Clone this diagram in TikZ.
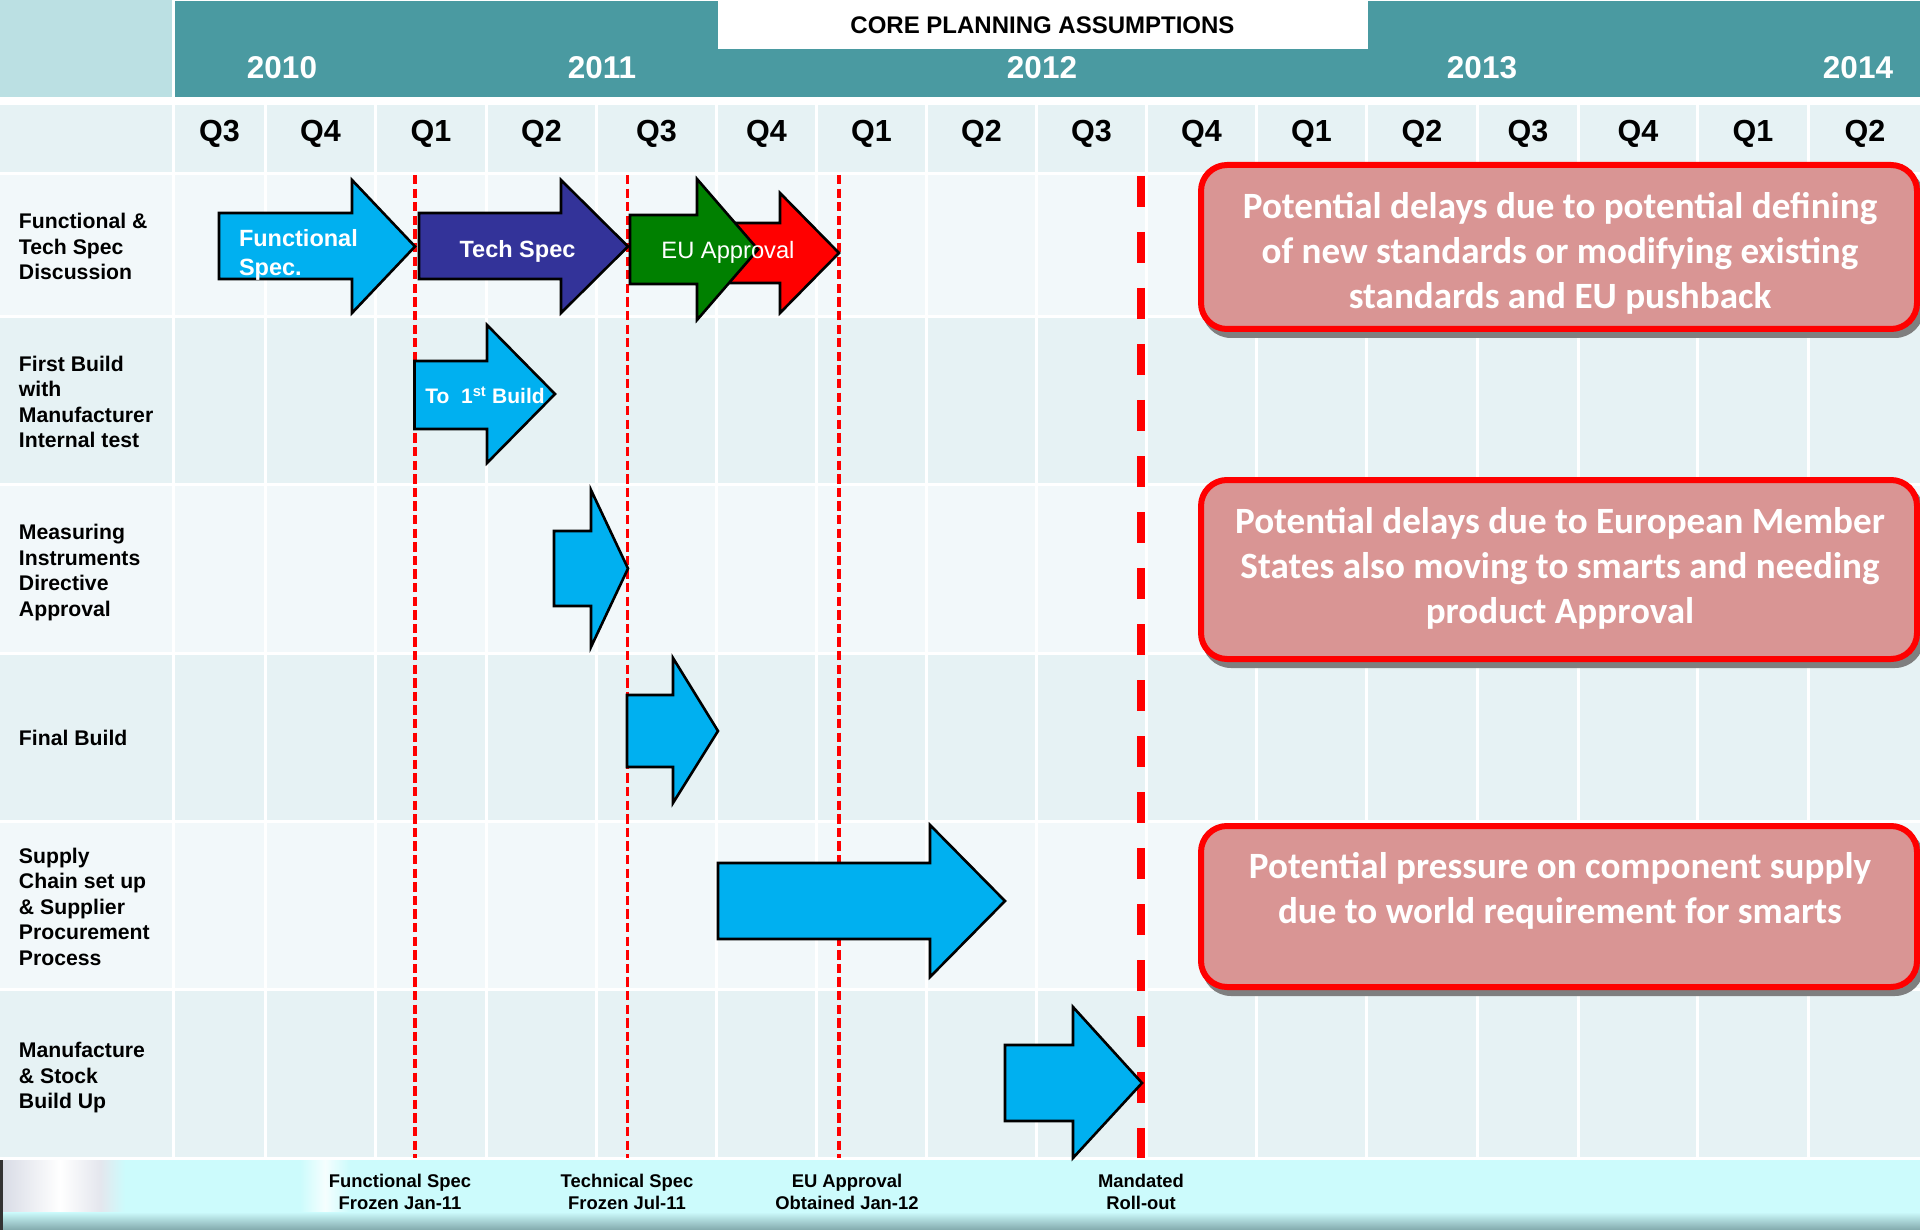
\documentclass[tikz,border=0pt]{standalone}
\usepackage{fontspec}
\setmainfont{Liberation Sans}
\newfontfamily\calibfont{Carlito}
\usetikzlibrary{calc}
\definecolor{hdrteal}{HTML}{4A9AA1}
\definecolor{hdrleft}{HTML}{BBE0E3}
\definecolor{rowlight}{HTML}{F2F8FA}
\definecolor{rowdark}{HTML}{E6F2F4}
\definecolor{arrowcyan}{HTML}{00B0F0}
\definecolor{arrowblue}{HTML}{333399}
\definecolor{arrowgreen}{HTML}{008000}
\definecolor{calloutfill}{HTML}{D99594}
\definecolor{stripcyan}{HTML}{CCFBFC}
\definecolor{stripgray}{HTML}{D9DCE6}
\definecolor{stripdark}{HTML}{82A9AC}
\definecolor{shadowgray}{HTML}{7F7F7F}
\newcommand\fsz[2]{\fontsize{#1}{#2}\selectfont}
% #1 style, #2 x0, #3 x1 (head base), #4 x tip, #5 body top, #6 body bottom, #7 head top, #8 head bottom, #9 tip y
\newcommand\ganttarrow[9]{%
  \filldraw[arrowshape,#1] (#2,#5) -- (#3,#5) -- (#3,#7) -- (#4,#9) -- (#3,#8) -- (#3,#6) -- (#2,#6) -- cycle;}
\begin{document}
\begin{tikzpicture}[x=1pt,y=-1pt,
  every node/.style={inner sep=0pt, outer sep=0pt},
  yearlabel/.style={text=white, font=\fsz{31.5}{36}\bfseries, anchor=base},
  qlabel/.style={text=black, font=\fsz{30.5}{36}\bfseries, anchor=base},
  titlelabel/.style={text=black, font=\fsz{24}{28}\bfseries, anchor=base},
  rowlabel/.style={text=black, font=\fsz{21.2}{25.5}\bfseries, anchor=west, align=left},
  milelabel/.style={text=black, font=\fsz{18.4}{22}\bfseries, align=center},
  arrowshape/.style={draw=black, line width=2.6pt, line join=miter, miter limit=10},
  arrowtext/.style={text=white, font=\fsz{23.5}{29}\bfseries},
  milestone/.style={draw=red, line width=3.8pt, dash pattern=on 9.3pt off 4.3pt},
  mandline/.style={draw=red, line width=8pt, dash pattern=on 31pt off 25pt},
  calloutbox/.style={draw=red, line width=6pt, fill=calloutfill, rounded corners=26pt},
  calloutshadow/.style={fill=shadowgray, rounded corners=29pt},
  callouttext/.style={text=white, font=\calibfont\fsz{37.1}{45}\bfseries, align=center},
  gridline/.style={draw=white, line width=3pt}
]
\useasboundingbox (0,0) rectangle (1920,1230);
\clip (0,0) rectangle (1920,1230);
\fill[white] (0,0) rectangle (1920,1230);

% ---------- header ----------
\fill[hdrleft] (0,0) rectangle (172,97);
\fill[hdrteal] (175,1) rectangle (1920,97);
\fill[white] (718,0) rectangle (1368,49);
\node[titlelabel] (title) at (1042.5,33.2) {CORE PLANNING ASSUMPTIONS};
\node[yearlabel] (y2010) at (282,79) {2010};
\node[yearlabel] (y2011) at (602,79) {2011};
\node[yearlabel] (y2012) at (1042,79) {2012};
\node[yearlabel] (y2013) at (1482,79) {2013};
\node[yearlabel] (y2014) at (1858,79) {2014};

% ---------- rows ----------
\fill[rowdark] (0,105) rectangle (1920,172);
\fill[rowlight] (0,175) rectangle (1920,315);
\fill[rowdark] (0,318) rectangle (1920,483);
\fill[rowlight] (0,486) rectangle (1920,652);
\fill[rowdark] (0,655) rectangle (1920,820);
\fill[rowlight] (0,823) rectangle (1920,988);
\fill[rowdark] (0,991) rectangle (1920,1157);
\draw[gridline] (173.5,0) -- (173.5,1158);
\foreach \gx in {265.5,375.5,486.5,596.5,716.5,816.5,926.5,1036.5,1146.5,1256.5,1366.5,1477.5,1578.5,1697.5,1808.5}
  \draw[gridline] (\gx,97) -- (\gx,1158);

% ---------- quarter labels ----------
\foreach \qx/\qt [count=\qi] in {219.5/Q3,320.5/Q4,431/Q1,541.5/Q2,656.5/Q3,766.5/Q4,871.5/Q1,981.5/Q2,1091.5/Q3,1201.5/Q4,1311.5/Q1,1422/Q2,1528/Q3,1638/Q4,1753/Q1,1865/Q2}
  \node[qlabel] (q\qi) at (\qx,141.7) {\qt};

% ---------- row labels ----------
\node[rowlabel] (r1) at (19,246.5) {Functional \&\\Tech Spec\\Discussion};
\node[rowlabel] (r2) at (19,401.7) {First Build\\with\\Manufacturer\\Internal test};
\node[rowlabel] (r3) at (19,572.3) {Measuring\\Instruments\\Directive\\Approval};
\node[rowlabel, anchor=base west] (r4) at (19,745.8) {Final Build};
\node[rowlabel] (r5) at (19,906.9) {Supply\\Chain set up\\\& Supplier\\Procurement\\Process};
\node[rowlabel] (r6) at (19,1077.75) {Manufacture\\\& Stock\\Build Up};

% ---------- bottom strip ----------
\fill[stripcyan] (0,1160) rectangle (1920,1230);
\shade[left color=stripgray, right color=white] (3,1160) rectangle (60,1230);
\shade[left color=white, right color=stripgray!70!white] (60,1160) rectangle (100,1230);
\shade[left color=stripgray!70!white, right color=stripcyan] (100,1160) rectangle (125,1230);
\shade[left color=stripcyan, right color=white!80!stripcyan] (300,1160) rectangle (325,1230);
\shade[left color=white!80!stripcyan, right color=stripcyan] (325,1160) rectangle (350,1230);
\shade[top color=stripcyan, bottom color=stripdark] (0,1212) rectangle (1920,1230);
\fill[black!80] (0,1160) rectangle (2.5,1230);
\node[milelabel] (m1) at (400,1191.9) {Functional Spec\\Frozen Jan-11};
\node[milelabel] (m2) at (627,1191.9) {Technical Spec\\Frozen Jul-11};
\node[milelabel] (m3) at (847,1191.9) {EU Approval\\Obtained Jan-12};
\node[milelabel] (m4) at (1141,1191.9) {Mandated\\Roll-out};

% ---------- milestone lines ----------
\coordinate (fsT) at (415,175);  \coordinate (fsB) at (415,1158);
\coordinate (tsT) at (627.5,175);\coordinate (tsB) at (627.5,1158);
\coordinate (euT) at (839,175);  \coordinate (euB) at (839,1158);
\coordinate (mrT) at (1141,176); \coordinate (mrB) at (1141,1158);
\draw[milestone] (fsT) -- (fsB);
\draw[milestone] (tsT) -- (tsB);
\draw[milestone] (euT) -- (euB);
\draw[mandline] (mrT) -- (mrB);

% ---------- arrows ----------
\ganttarrow{fill=arrowcyan}{219}{352}{415}{213}{279}{180}{313}{246.5}
\ganttarrow{fill=arrowblue}{419}{561}{628}{213}{279}{180}{313}{246.5}
\ganttarrow{fill=red}{700}{780}{839}{223}{283}{193}{313}{253}
\ganttarrow{fill=arrowgreen}{630}{697}{758}{215}{284}{179}{320}{249.5}
\ganttarrow{fill=arrowcyan}{414.5}{487}{555}{361}{429}{325}{463}{394}
\ganttarrow{fill=arrowcyan}{554}{591}{628}{531}{606}{490}{647}{568.5}
\ganttarrow{fill=arrowcyan}{627}{673}{718}{695}{767}{658}{803}{731}
\ganttarrow{fill=arrowcyan}{718}{930}{1005}{863}{939}{825}{977}{901}
\ganttarrow{fill=arrowcyan}{1005}{1073}{1142}{1045}{1121}{1007}{1158}{1083}

\node[arrowtext, anchor=west, align=left] (tFS) at (239,254.75) {Functional\\Spec.};
\node[arrowtext, anchor=base] (tTS) at (517.5,257.4) {Tech Spec};
\node[arrowtext, font=\fsz{23.7}{29}, anchor=base] (tEU) at (728,258.4) {EU Approval};
\node[arrowtext, font=\fsz{21}{25}\bfseries, anchor=base] (tFB) at (485,404) {To~~1\textsuperscript{st} Build};

% ---------- callouts ----------
\fill[calloutshadow] (1202,168) rectangle (1924,338);
\draw[calloutbox] (1201,165) rectangle (1917,329);
\node[callouttext] (c1) at (1560,253.6) {Potential delays due to potential defining\\of new standards or modifying existing\\standards and EU pushback};

\fill[calloutshadow] (1202,483) rectangle (1924,668);
\draw[calloutbox] (1201,480) rectangle (1917,659);
\node[callouttext] (c2) at (1560,568.6) {Potential delays due to European Member\\States also moving to smarts and needing\\product Approval};

\fill[calloutshadow] (1202,829) rectangle (1924,996);
\draw[calloutbox] (1201,826) rectangle (1917,987);
\node[callouttext] (c3) at (1560,891.1) {Potential pressure on component supply\\due to world requirement for smarts};
\end{tikzpicture}
\end{document}
